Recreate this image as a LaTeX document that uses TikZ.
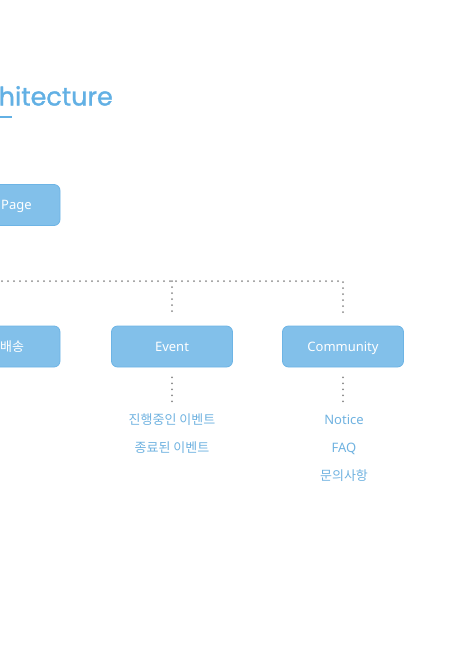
\documentclass[tikz,border=0pt]{standalone}
\usepackage{fontspec}
\setmainfont{Noto Sans}
\newfontfamily\kr{Noto Sans CJK KR}
\newfontfamily\titlefont[FakeBold=1.3]{Poppins}
\usepackage{xcolor}
\usepackage{tikz}
\usetikzlibrary{positioning, calc}

\definecolor{boxblue}{HTML}{82C0EA}
\definecolor{boxline}{HTML}{6DB4E5}
\definecolor{txtblue}{HTML}{6FB2E0}
\definecolor{titleblue}{HTML}{62B0E4}
\definecolor{dotgray}{HTML}{888888}

\begin{document}
\begin{tikzpicture}[x=1pt, y=-1pt,
  menubox/.style={draw=boxline, fill=boxblue, rounded corners=6pt, line width=0.8pt,
    minimum width=121pt, minimum height=41pt, text=white,
    text height=9.5pt, text depth=0pt, font=\fontsize{13}{15}\selectfont},
  boxtext/.style={text=white, font=\fontsize{13}{15}\selectfont, inner sep=0pt,
    text height=9.5pt, text depth=0pt},
  subitem/.style={text=txtblue, font=\fontsize{13}{15}\selectfont,
    text height=9.5pt, text depth=0pt},
  dotline/.style={dotgray, line width=2pt, line cap=round, dash pattern=on 0pt off 6pt}]
\useasboundingbox (0,0) rectangle (458,646);

% Title
\node[anchor=base east, inner sep=0pt, text=titleblue, font=\titlefont\fontsize{25.5}{30}\selectfont] (title) at (113,105.5) {hitecture};
\draw[titleblue, line width=2pt] (0,116.5) -- (12,116.5);

% Main page box
\node[menubox] (page) at (-0.5,205) {};
\node[boxtext, anchor=west] (pagetxt) at (1,205) {Page};

% Menu boxes
\node[menubox] (delivery) at (-0.5,346.5) {};
\node[boxtext, anchor=west] (deliverytxt) at (0,346.5) {\kr 배송};
\node[menubox] (event) at (172,346.5) {Event};
\node[menubox] (community) at (343,346.5) {Community};

% Connectors
\coordinate (left) at (2,281);
\draw[dotline] (left) -| ([yshift=8pt]community.north);
\draw[dotline] (event.north |- left) -- ([yshift=13pt]event.north);

% Event items
\draw[dotline] ([yshift=-10pt]event.south) -- ([yshift=-35pt]event.south);
\node[subitem] (ev1) at (172,420) {\kr 진행중인 이벤트};
\node[subitem] (ev2) at (172,448) {\kr 종료된 이벤트};

% Community items
\draw[dotline] ([yshift=-10pt]community.south) -- ([yshift=-35pt]community.south);
\node[subitem] (cm1) at (344,420) {Notice};
\node[subitem] (cm2) at (344,448) {FAQ};
\node[subitem] (cm3) at (344,476) {\kr 문의사항};

\end{tikzpicture}
\end{document}
